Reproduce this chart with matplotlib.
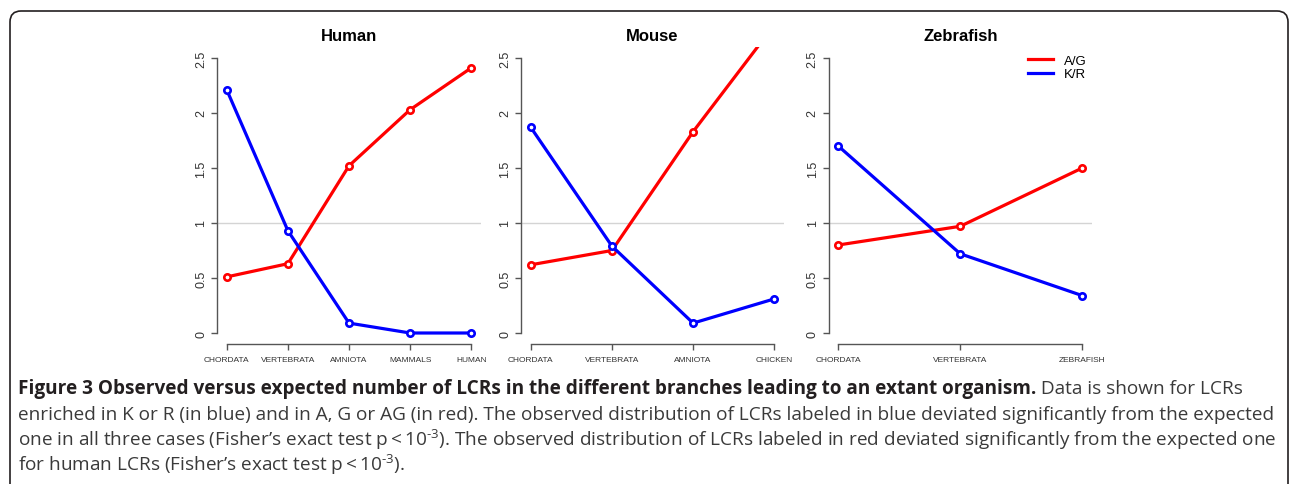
import matplotlib
matplotlib.use("Agg")
import matplotlib.pyplot as plt
from matplotlib.patches import FancyBboxPatch
from matplotlib.transforms import IdentityTransform
from matplotlib.lines import Line2D

plt.rcParams['font.family'] = ['Liberation Sans', 'DejaVu Sans']
plt.rcParams['mathtext.fontset'] = 'custom'
plt.rcParams['mathtext.rm'] = 'Open Sans'
plt.rcParams['mathtext.it'] = 'Open Sans:italic'
plt.rcParams['mathtext.bf'] = 'Open Sans:bold'

# ---------------- data ----------------
titles = ["Human", "Mouse", "Zebrafish"]
human_labels = ["CHORDATA", "VERTEBRATA", "AMNIOTA", "MAMMALS", "HUMAN"]
human_ag = [0.51, 0.63, 1.52, 2.03, 2.41]
human_kr = [2.21, 0.93, 0.09, 0.00, 0.00]
mouse_labels = ["CHORDATA", "VERTEBRATA", "AMNIOTA", "CHICKEN"]
mouse_ag = [0.62, 0.75, 1.83, 2.80]
mouse_kr = [1.87, 0.79, 0.09, 0.31]
zebra_labels = ["CHORDATA", "VERTEBRATA", "ZEBRAFISH"]
zebra_ag = [0.80, 0.97, 1.50]
zebra_kr = [1.70, 0.72, 0.34]
series_names = ["A/G", "K/R"]
yticks = [0, 0.5, 1, 1.5, 2, 2.5]
ytick_labels = ["0", "0.5", "1", "1.5", "2", "2.5"]

caption_bold = "Figure 3 Observed versus expected number of LCRs in the different branches leading to an extant organism."
caption_lines = [
    " Data is shown for LCRs",
    "enriched in K or R (in blue) and in A, G or AG (in red). The observed distribution of LCRs labeled in blue deviated significantly from the expected",
    "one in all three cases (Fisher\u2019s exact test p\u2009<\u200910$^{\\text{-3}}$). The observed distribution of LCRs labeled in red deviated significantly from the expected one",
    "for human LCRs (Fisher\u2019s exact test p\u2009<\u200910$^{\\text{-3}}$).",
]

W, H = 1290, 485
fig = plt.figure(figsize=(W / 100, H / 100), dpi=100)

RED = "#ff0000"
BLUE = "#0000ff"
AXC = "#555555"
TXC = "#333333"

panels = [
    (titles[0], human_labels, human_ag, human_kr, 217, 481),
    (titles[1], mouse_labels, mouse_ag, mouse_kr, 521, 784),
    (titles[2], zebra_labels, zebra_ag, zebra_kr, 828.5, 1092),
]
top_px, bot_px = 48, 345

axes = []
for title, labels, ag, kr, lpx, rpx in panels:
    ax = fig.add_axes([lpx / W, 1 - bot_px / H, (rpx - lpx) / W, (bot_px - top_px) / H])
    n = len(labels)
    x = list(range(n))
    pad = 0.04 * (n - 1)
    ax.set_xlim(-pad, n - 1 + pad)
    ax.set_ylim(-0.1, 2.6)
    ax.axhline(1, color="#d4d4d4", lw=1.0, zorder=1)
    for vals, col, name in [(ag, RED, series_names[0]), (kr, BLUE, series_names[1])]:
        ax.plot(x, vals, color=col, lw=2.3, zorder=3, label=name,
                marker="o", ms=4.6, mfc="white", mec=col, mew=1.9)
    for s in ["top", "right"]:
        ax.spines[s].set_visible(False)
    ax.spines["left"].set_bounds(0, 2.5)
    ax.spines["bottom"].set_bounds(0, n - 1)
    for s in ["left", "bottom"]:
        ax.spines[s].set_color(AXC)
        ax.spines[s].set_linewidth(1.0)
    ax.set_yticks(yticks)
    ax.set_yticklabels(ytick_labels, rotation=90, va="center", fontsize=9, color=TXC)
    ax.set_xticks(x)
    ax.set_xticklabels(labels, fontsize=6, color=TXC)
    ax.tick_params(axis="both", length=4, width=1.0, color=AXC)
    ax.tick_params(axis="y", pad=3)
    ax.tick_params(axis="x", pad=5)
    ax.set_title(title, fontsize=12, fontweight="bold", pad=5)
    ax.patch.set_alpha(0)
    axes.append(ax)

# legend on zebrafish panel
ax = axes[2]
lh = [Line2D([], [], color=RED, lw=2.3), Line2D([], [], color=BLUE, lw=2.3)]
ax.legend(lh, series_names, loc="upper left", bbox_to_anchor=(0.757, 0.975),
          frameon=False, fontsize=9.5, handlelength=1.9, handletextpad=0.8,
          labelspacing=0.12, borderpad=0, borderaxespad=0)

# frame
frame = FancyBboxPatch((10, -30), 1278, 485 - 12 + 30, boxstyle="round,pad=0,rounding_size=11",
                       transform=IdentityTransform(), fill=False, ec="#231f20", lw=1.2)
fig.patches.append(frame)

# caption
renderer = fig.canvas.get_renderer()
left_px = 18
probe = fig.text(0, 0, caption_lines[1], family="Open Sans", fontsize=10)
w10 = probe.get_window_extent(renderer).width
probe.remove()
fs = 10 * (1277 - left_px) / w10

baselines = [394, 420, 446, 471]
t = fig.text(left_px / W, 1 - baselines[0] / H, caption_bold, family="Open Sans", fontweight="bold",
             fontsize=fs, color="#231f20", va="baseline")
bw = t.get_window_extent(renderer).x1
fig.text(bw / W, 1 - baselines[0] / H, caption_lines[0], family="Open Sans", fontsize=fs,
         color="#3a3a3a", va="baseline")
for line, yb in zip(caption_lines[1:], baselines[1:]):
    fig.text(left_px / W, 1 - yb / H, line, family="Open Sans", fontsize=fs, color="#3a3a3a",
             va="baseline")

fig.savefig("out.png", dpi=100)
